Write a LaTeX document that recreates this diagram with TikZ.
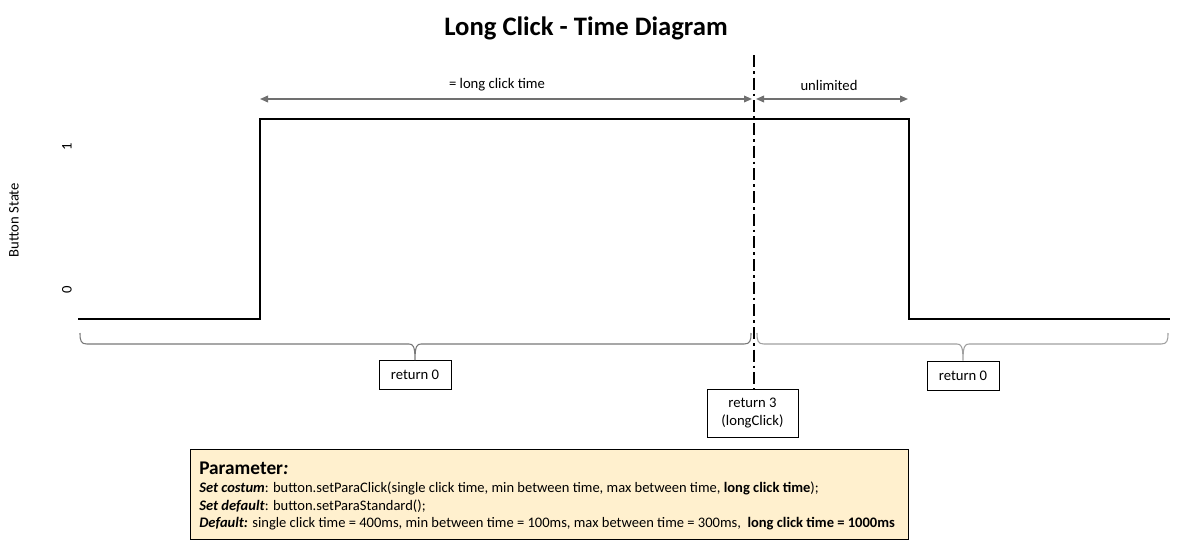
\documentclass[tikz,border=0pt]{standalone}
\usepackage{fontspec}
\setmainfont{Carlito}
\usetikzlibrary{arrows.meta}
\definecolor{dimgray}{RGB}{112,112,112}
\definecolor{bracegray}{RGB}{120,120,120}
\definecolor{bracelight}{RGB}{160,160,160}
\definecolor{paramfill}{RGB}{255,240,206}
\begin{document}
\begin{tikzpicture}[x=0.75pt,y=-0.75pt,
  signal/.style={line width=1.9pt, line join=miter},
  marker/.style={line width=1.5pt, dash pattern=on 9pt off 3pt on 2pt off 3pt},
  dimline/.style={draw=dimgray, line width=1.1pt, {Triangle[length=6pt,width=5pt]}-{Triangle[length=6pt,width=5pt]}},
  dimlabel/.style={font=\fontsize{11}{13}\selectfont, inner sep=0pt},
  bracepath/.style={line width=0.8pt},
  retbox/.style={draw, line width=0.75pt, font=\fontsize{11}{13.5}\selectfont, align=center, minimum height=21.75pt, inner sep=1pt},
  axislabel/.style={font=\fontsize{11}{13}\selectfont, rotate=90, inner sep=0pt},
  paramline/.style={anchor=base west, inner sep=0pt, font=\fontsize{10.9}{12}\selectfont}
]
\useasboundingbox (0,0) rectangle (1192,557);

% title
\node[font=\fontsize{20}{24}\selectfont\bfseries] (title) at (586,28) {Long Click - Time Diagram};

% axis labels
\node[axislabel] (ylabel) at (14,220) {Button State};
\node[axislabel] (one) at (67,147) {1};
\node[axislabel] (zero) at (67,290) {0};

% signal trace
\coordinate (s0) at (78,319);
\coordinate (rise) at (260,319);
\coordinate (high0) at (260,119);
\coordinate (high1) at (909,119);
\coordinate (fall) at (909,319);
\coordinate (s1) at (1170,319);
\draw[signal] (s0) -- (rise) -- (high0) -- (high1) -- (fall) -- (s1);

% long click event marker
\node[retbox, minimum width=68.25pt, minimum height=36pt] (ret3) at (752.5,413) {return 3\\(longClick)};
\coordinate (marktop) at (754,55);
\draw[marker] (marktop) -- (marktop |- ret3.north);

% duration arrows
\coordinate (lcA) at (260,99);
\coordinate (lcB) at (752,99);
\coordinate (unA) at (756,99);
\coordinate (unB) at (908,99);
\draw[dimline] (lcA) -- (lcB);
\draw[dimline] (unA) -- (unB);
\node[dimlabel] (lclabel) at (497,85) {= long click time};
\node[dimlabel] (unlabel) at (829,85) {unlimited};

% result boxes
\node[retbox, minimum width=54pt] (ret0a) at (415,375) {return 0};
\node[retbox, minimum width=54pt] (ret0b) at (963,375.5) {return 0};

% braces
\draw[bracepath, draw=bracegray]
  (80,333) .. controls (80,341) and (81,344) .. (87,344) -- (409,344)
  .. controls (413,344) and (415,346) .. (ret0a.north)
  (ret0a.north) .. controls (415,346) and (417,344) .. (421,344) -- (744,344)
  .. controls (750,344) and (751,341) .. (751,333);
\draw[bracepath, draw=bracelight]
  (757,333) .. controls (757,341) and (758,344) .. (764,344) -- (957,344)
  .. controls (961,344) and (963,346) .. (ret0b.north)
  (ret0b.north) .. controls (963,346) and (965,344) .. (969,344) -- (1161,344)
  .. controls (1167,344) and (1168,341) .. (1168,333);

% parameter box
\node[draw, line width=1pt, fill=paramfill, minimum width=538.5pt, minimum height=67.5pt, anchor=north west, inner sep=0pt] (param) at (190,449) {};
\node[anchor=base west, inner sep=0pt, font=\fontsize{14.5}{16}\selectfont\bfseries] (ptitle) at (199,474) {Parameter\textit{:}};
\node[paramline] (pl1) at (199,492) {\textbf{\textit{Set costum}}: button.setParaClick(single click time, min between time, max between time, \textbf{long click time});};
\node[paramline] (pl2) at (199,510) {\textbf{\textit{Set default}}: button.setParaStandard();};
\node[paramline] (pl3) at (199,527) {\textbf{\textit{Default:}} single click time = 400ms, min between time = 100ms, max between time = 300ms,\ \ \textbf{long click time = 1000ms}};
\end{tikzpicture}
\end{document}
